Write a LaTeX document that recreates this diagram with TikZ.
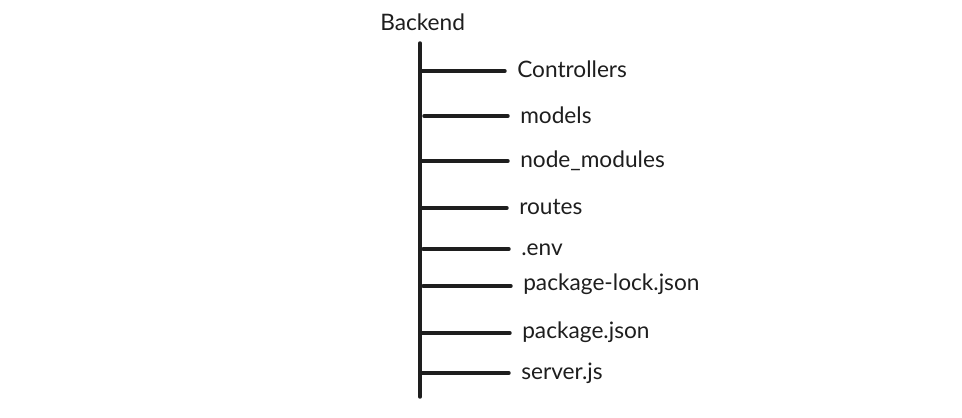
\documentclass[tikz,border=0pt]{standalone}
\usepackage{fontspec}
\setmainfont{Lato}
\usetikzlibrary{positioning}
\definecolor{ink}{HTML}{1E1E1E}
\tikzset{
  trunk/.style  = { draw=ink, line width=2.6pt, line cap=round },
  branch/.style = { draw=ink, line width=2.6pt, line cap=round },
  item/.style   = { anchor=base west, inner xsep=9pt, inner ysep=0pt,
    text=ink, font=\fontsize{17}{20}\selectfont },
}
\begin{document}
\begin{tikzpicture}[x=0.75pt,y=-0.75pt]
    \useasboundingbox (0,0) rectangle (962,417);
    % root and trunk
    \node[item, inner xsep=0pt] (root) at (380,31) {Backend};
    \coordinate (top) at (420,43);
    \coordinate (bot) at (420,397);
    \draw[trunk] (top) -- (bot);

    % entries
    \coordinate (t1) at (421,71);
    \coordinate (t2) at (424,116);
    \coordinate (t3) at (422,161);
    \coordinate (t4) at (421,208);
    \coordinate (t5) at (423,249);
    \coordinate (t6) at (423,286);
    \coordinate (t7) at (422,333);
    \coordinate (t8) at (421,373);
    \node[item] (ctrl) at (505,78) {Controllers};
    \node[item] (mdl)  at (508,123) {models};
    \node[item] (nmod) at (508,167) {node\_modules};
    \node[item] (rts)  at (507,214) {routes};
    \node[item] (env)  at (509,255) {.env};
    \node[item] (plock) at (511,290) {package-lock.json};
    \node[item] (pkg)  at (510,338) {package.json};
    \node[item] (srv)  at (509,379) {server.js};

    \draw[branch] (t1) -- (t1 -| ctrl.west);
    \draw[branch] (t2) -- (t2 -| mdl.west);
    \draw[branch] (t3) -- (t3 -| nmod.west);
    \draw[branch] (t4) -- (t4 -| rts.west);
    \draw[branch] (t5) -- (t5 -| env.west);
    \draw[branch] (t6) -- (t6 -| plock.west);
    \draw[branch] (t7) -- (t7 -| pkg.west);
    \draw[branch] (t8) -- (t8 -| srv.west);
\end{tikzpicture}
\end{document}
